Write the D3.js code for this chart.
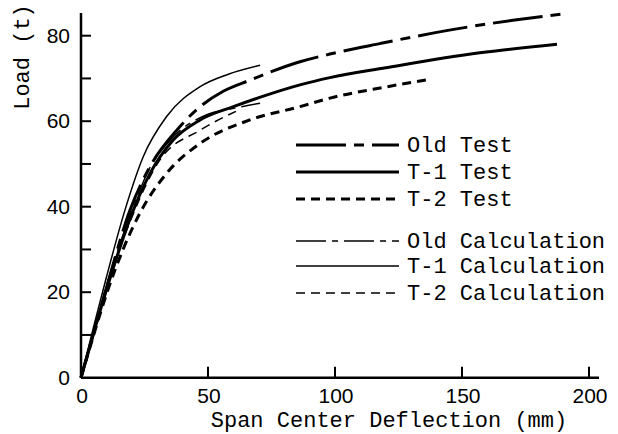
<!DOCTYPE html>
<html>
  <head>
    <meta charset="utf-8">
    <title>Load - Deflection</title>
    <script src="https://cdn.jsdelivr.net/npm/d3@7"></script>
    <style>
      html, body { margin: 0; padding: 0; background: #fff; }
      svg { display: block; }
      .lbl { font-family: "Liberation Mono", "DejaVu Sans Mono", monospace; font-size: 22px; }
      .num { font-family: "Liberation Sans", Arial, sans-serif; font-size: 21px; }
    </style>
  </head>
  <body>
    <div id="chart"></div>
    <script>
      // series: [deflection mm, load t]
      var oldTest = [[0,0],[5,10.5],[10,21],[19.3,39.2],[27.2,49.4],[37.7,57.9],[46.9,63.4],[56,67],[66.5,69.6],[86.2,73.9],[98,75.7],[118,78.2],[145,81.3],[170,83.6],[191.7,85.2]];
      var t1Test = [[0,0],[5,10.5],[10,20.5],[20.6,39.2],[27.2,47.8],[36.3,55.6],[46.9,60.3],[60,63.4],[73,66.1],[86.2,68.5],[98,70.2],[120,72.5],[157,76],[187.4,78]];
      var t2Test = [[0,0],[5,10],[10,19.5],[23.2,38.5],[33.7,47.8],[46.9,54.8],[66.5,60.3],[86.2,63.4],[98,65.4],[120,68],[137.4,69.8]];
      var oldCalc = [[0,0],[5,11],[10,21.5],[20,39],[27,49],[35,55.5],[49.5,61.5],[60,63],[70.5,64.2]];
      var t1Calc = [[0,0],[5,12],[10,23.5],[17.3,39.2],[24.5,51.7],[33.7,61.1],[46.9,68.1],[58,71],[70.5,73.1]];
      var t2Calc = [[0,0],[5,10.5],[10,21],[20,37.5],[31,50.9],[46.9,57.9],[61,62.3]];

      var xTicks = [0, 50, 100, 150, 200];
      var yTicks = [0, 10, 20, 30, 40, 50, 60, 70, 80];
      var yLabels = [0, 20, 40, 60, 80];

      var names = ["Old Test", "T-1 Test", "T-2 Test", "Old Calculation", "T-1 Calculation", "T-2 Calculation"];
      var seriesList = [oldTest, t1Test, t2Test, oldCalc, t1Calc, t2Calc];
      var widths = [3, 3, 3, 1.5, 1.5, 1.5];
      var dashes = ["50,8,10,8", null, "9,6", "30,6,6,6", null, "9,6"];

      var W = 618, H = 434;
      var svg = d3.select("#chart").append("svg").attr("width", W).attr("height", H);

      var x = d3.scaleLinear().domain([0, 200]).range([81, 589]);
      var y = d3.scaleLinear().domain([0, 80]).range([377.7, 35.7]);

      // axis lines
      svg.append("line").attr("x1", x(0)).attr("x2", 599).attr("y1", y(0)).attr("y2", y(0))
        .attr("stroke", "#000").attr("stroke-width", 2.5);
      svg.append("line").attr("x1", x(0)).attr("x2", x(0)).attr("y1", y(0)).attr("y2", 13)
        .attr("stroke", "#000").attr("stroke-width", 2.5);

      // y ticks, pointing inward
      svg.selectAll(".yt").data(yTicks.slice(1)).enter().append("line")
        .attr("x1", x(0)).attr("x2", x(0) + 10)
        .attr("y1", function (d) { return y(d); }).attr("y2", function (d) { return y(d); })
        .attr("stroke", "#000").attr("stroke-width", 2);
      svg.selectAll(".yl").data(yLabels).enter().append("text")
        .attr("class", "num")
        .attr("x", 70).attr("y", function (d) { return y(d) + 7; })
        .attr("text-anchor", "end")
        .text(function (d) { return d; });

      // x ticks, pointing inward
      svg.selectAll(".xt").data(xTicks.slice(1)).enter().append("line")
        .attr("x1", function (d) { return x(d); }).attr("x2", function (d) { return x(d); })
        .attr("y1", y(0)).attr("y2", y(0) - 11)
        .attr("stroke", "#000").attr("stroke-width", 2);
      svg.selectAll(".xl").data(xTicks).enter().append("text")
        .attr("class", "num")
        .attr("x", function (d) { return x(d) + 1; }).attr("y", 403)
        .attr("text-anchor", "middle")
        .text(function (d) { return d; });

      // axis titles
      svg.append("text").attr("class", "lbl")
        .attr("transform", "translate(29,57) rotate(-90)")
        .attr("text-anchor", "middle").text("Load (t)");
      svg.append("text").attr("class", "lbl")
        .attr("x", 389).attr("y", 427)
        .attr("text-anchor", "middle").text("Span Center Deflection (mm)");

      // curves
      var line = d3.line()
        .x(function (d) { return x(d[0]); })
        .y(function (d) { return y(d[1]); })
        .curve(d3.curveMonotoneX);

      seriesList.forEach(function (s, i) {
        svg.append("path").datum(s)
          .attr("d", line)
          .attr("fill", "none").attr("stroke", "#000")
          .attr("stroke-width", widths[i])
          .attr("stroke-dasharray", dashes[i]);
      });

      // legend
      var legY = [145, 172, 199, 241, 266, 293];
      names.forEach(function (n, i) {
        svg.append("line")
          .attr("x1", 296).attr("x2", 399)
          .attr("y1", legY[i]).attr("y2", legY[i])
          .attr("stroke", "#000").attr("stroke-width", widths[i])
          .attr("stroke-dasharray", dashes[i]);
        svg.append("text").attr("class", "lbl")
          .attr("x", 407).attr("y", legY[i] + 7)
          .text(n);
      });
    </script>
  </body>
</html>
